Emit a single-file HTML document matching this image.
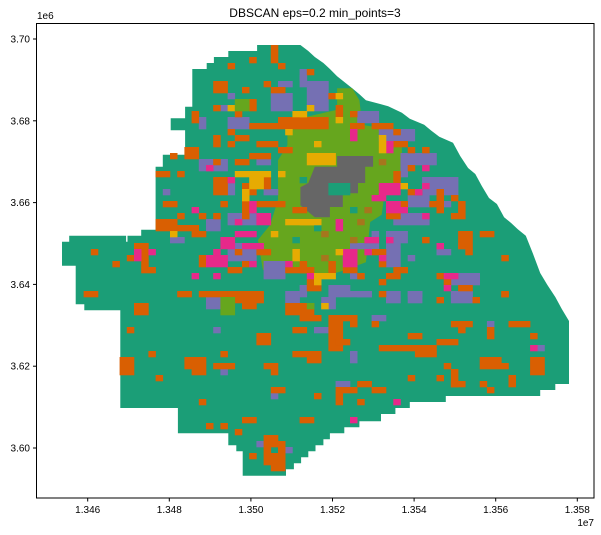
<!DOCTYPE html>
<html><head><meta charset="utf-8"><style>
body{margin:0;background:#fff;}
svg{display:block;font-family:"Liberation Sans","DejaVu Sans",sans-serif;}
</style></head><body>
<svg id="chart" width="601" height="535" xmlns="http://www.w3.org/2000/svg">
<rect width="601" height="535" fill="#fff"/>
<text x="315" y="17" font-size="12" text-anchor="middle" fill="#000">DBSCAN eps=0.2 min_points=3</text>
<g id="plot"></g>
<g id="axes"></g>
</svg>
<script>
// axis scales (data units: easting 1e7, northing 1e6)
const xTicks=[1.346,1.348,1.350,1.352,1.354,1.356,1.358];
const yTicks=[3.60,3.62,3.64,3.66,3.68,3.70];
const xTickLabels=["1.346","1.348","1.350","1.352","1.354","1.356","1.358"];
const yTickLabels=["3.60","3.62","3.64","3.66","3.68","3.70"];
// raster grid definition (cell index -> data coords)
const gridX0=1.34537, gridCellW=0.0001765, gridYTop=3.69853, gridCellH=0.001467;
// region outlines in grid cell units [col,row]
const outerRegion=[[27.1,0],[33.1,0],[34.2,1],[35.1,2],[36.3,3],[37.2,4],[38.2,5.2],[40.3,7.2],[41.3,8.2],[42.2,9.2],[45.3,10.2],[47.2,11.3],[48.3,12.3],[50.3,13.3],[51.3,14.3],[52.4,15.3],[54.3,16.3],[55.3,18.5],[56.4,20.5],[57.4,21.5],[58.3,23.5],[59.3,25.5],[60.4,26.5],[61.4,28.7],[62.4,29.7],[63.3,30.7],[64.4,31.8],[65.4,34.8],[66.4,38],[67.4,40],[68.5,42],[69.4,44],[70.4,46],[70.4,56.5],[68.5,56.5],[68.5,57.5],[66.4,57.5],[66.4,58.5],[53.3,58.5],[53.3,59.5],[48.3,59.5],[48.3,60.5],[46.3,60.5],[46.3,61.5],[44.3,61.5],[44.3,62.7],[41.3,62.7],[41.3,63.7],[39.2,63.7],[39.2,64.7],[37.2,64.7],[37.2,65.7],[36.3,65.7],[36.3,66.7],[35.2,66.7],[35.2,67.7],[34.2,67.7],[34.2,68.7],[33.2,68.7],[33.2,69.7],[32.2,69.7],[32.2,70.7],[31.1,70.7],[31.1,71.8],[25.1,71.8],[25.1,67.7],[24.2,67.7],[24.2,66.7],[23.1,66.7],[23.1,64.7],[16.1,64.7],[16.1,60.5],[8.1,60.5],[8.1,44.2],[3.1,44.2],[3.1,43.2],[1.9,43.2],[1.9,36.8],[0,36.8],[0,32.8],[1,32.8],[1,31.8],[8.9,31.8],[8.9,32.8],[9.1,32.8],[9.1,31.8],[11,31.8],[11,30.8],[13,30.8],[13,20.3],[14,20.3],[14,18.3],[17.1,18.3],[17.1,14.2],[15.1,14.2],[15.1,12.2],[17.1,12.2],[17.1,10.3],[18.1,10.3],[18.1,4],[20.1,4],[20.1,3],[21.1,3],[21.1,2],[23.1,2],[23.1,1],[27.1,1]];
const limeRegion=[[31.3,14.2],[33.1,12.2],[38.2,10.8],[38.2,7.2],[40.3,7.2],[41.3,9.2],[41.7,13.3],[47.2,14.5],[47.2,22],[46.3,23.5],[44.7,25.5],[44.4,28.3],[42.8,29.5],[42.2,36.2],[39.3,37.5],[37.2,38.3],[33.1,38],[27.9,37.5],[27.2,32.5],[28.9,30],[30,25.8],[30,19.2],[31.3,16.7]];
const grayRegion=[[38.2,18.5],[43.2,18.5],[43.2,20.3],[42.1,20.3],[42.1,23],[41.1,23],[41.1,24.7],[39,24.7],[39,27],[37.2,27],[37.2,28.7],[35.1,28.7],[33.1,26.7],[33.1,23.7],[34.2,23],[35.1,20.3],[38.2,20.3]];
// cluster cell blocks [col,row,w,h]
const purpleCells=[[29,8,3,3],[34,6,3,5],[19,12,1,2],[23,12,3,2],[19,19,4,2],[27,19,2,1],[14,24,1,1],[23,23,1,2],[28,24,2,1],[23,28,4,2],[20,29,2,2],[15,32,2,1],[23,33,4,3],[28,36,3,3],[33,5,1,1],[30,6,2,1],[22,10,1,1],[23,8,1,1],[33,4,1,3],[41,11,3,2],[44,14,5,2],[47,18,5,2],[47,20,1,2],[50,22,5,3],[48,25,3,2],[46,28,5,2],[53,26,1,1],[43,31,1,1],[45,31,3,2],[45,33,2,4],[40,33,4,1],[48,35,1,1],[52,34,2,1],[55,33,1,1],[54,38,4,2],[37,40,3,2],[40,38,2,1],[39,35,1,1],[48,41,2,1],[54,41,3,1],[33,40,1,2],[41,41,2,1],[20,42,2,2],[31,41,2,2],[36,42,2,2],[40,41,3,1],[45,41,2,2],[48,41,2,2],[54,41,3,2],[35,47,2,1],[40,51,1,2],[59,46,1,1],[66,50,1,1],[43,45,2,1],[21,47,1,1],[38,56,2,1],[39,57,1,1],[18,53,1,1],[22,54,1,1],[29,58,1,1],[27,66,1,1],[31,67,1,1]];
const orangeCells=[[29,0,1,3],[23,3,1,1],[26,2,1,1],[30,3,1,1],[34,4,1,1],[21,6,2,2],[28,6,1,1],[29,7,2,1],[25,7,1,1],[21,10,1,1],[26,9,1,2],[18,11,1,2],[24,11,1,1],[30,12,4,2],[26,13,4,1],[23,14,1,1],[24,15,2,1],[21,15,1,2],[23,16,1,1],[27,16,3,1],[30,17,2,1],[17,17,2,2],[15,18,1,1],[21,19,1,1],[24,19,2,1],[26,18,3,1],[13,21,2,1],[16,21,1,1],[21,22,2,3],[25,23,1,1],[28,22,1,2],[26,24,1,1],[14,26,2,1],[22,26,1,1],[25,26,1,3],[27,26,4,1],[32,27,2,1],[16,28,1,1],[19,28,1,1],[21,28,1,1],[13,29,3,2],[16,30,3,1],[18,31,2,1],[10,33,2,1],[11,34,1,3],[9,35,1,1],[4,34,1,1],[7,36,1,1],[11,37,2,1],[19,35,1,2],[24,34,1,1],[25,36,1,1],[27,34,2,1],[31,37,3,1],[33,36,1,1],[23,37,2,1],[37,8,1,1],[38,10,1,2],[34,12,3,2],[40,11,1,1],[40,13,2,1],[43,13,3,1],[46,14,1,1],[46,16,2,1],[48,17,1,1],[50,17,1,1],[46,21,1,2],[48,20,1,1],[48,24,2,1],[52,24,1,4],[51,26,1,1],[55,26,1,3],[54,28,1,1],[54,25,1,1],[47,26,1,1],[45,28,2,1],[55,31,2,3],[58,31,2,1],[50,32,1,1],[56,34,1,1],[61,35,1,1],[43,34,2,1],[44,36,1,1],[46,37,2,1],[45,38,2,1],[37,36,1,2],[39,37,2,1],[41,38,1,1],[44,39,1,1],[52,38,2,1],[53,39,1,1],[55,40,2,1],[61,41,1,1],[33,37,2,1],[34,39,2,2],[3,41,2,1],[10,43,2,2],[16,41,2,1],[19,41,4,1],[23,41,5,2],[25,43,2,1],[9,47,1,1],[12,51,1,1],[22,51,1,1],[8,52,2,3],[17,52,3,2],[18,54,2,1],[21,53,3,1],[27,48,2,2],[28,53,2,1],[29,54,1,1],[32,47,2,1],[31,43,4,2],[33,45,3,1],[32,51,4,1],[34,52,2,1],[37,45,2,6],[38,49,2,1],[13,55,1,1],[29,57,2,1],[35,58,1,1],[38,57,3,1],[38,58,1,2],[41,59,1,1],[19,59,1,1],[25,62,2,1],[33,62,2,1],[20,63,1,1],[22,63,1,1],[24,64,1,1],[28,65,2,1],[28,66,3,1],[28,67,1,1],[30,67,1,2],[28,68,3,2],[29,70,2,1],[26,68,1,1],[41,56,2,1],[43,57,2,1],[44,50,2,1],[46,50,6,1],[49,51,3,1],[48,48,2,1],[48,55,1,1],[52,49,3,1],[53,53,1,1],[54,54,1,3],[54,56,2,1],[54,46,3,1],[55,47,1,1],[58,52,3,1],[58,53,4,1],[59,47,1,2],[62,46,3,1],[65,52,2,3],[65,48,1,1],[62,55,1,2],[58,56,1,1],[59,57,1,1],[52,55,1,1],[52,42,1,1],[57,42,1,1],[61,41,1,1],[44,41,1,1],[43,46,1,1],[39,45,2,1],[40,46,1,1]];
const pinkCells=[[40,14,1,2],[45,16,1,2],[44,23,3,2],[43,25,2,1],[45,26,2,2],[50,20,1,1],[50,23,1,1],[49,24,1,1],[47,27,1,1],[50,28,1,1],[38,29,1,2],[42,32,2,1],[45,32,1,1],[39,34,2,3],[42,34,1,1],[52,33,1,1],[53,40,1,1],[53,38,2,1],[44,35,1,1],[34,38,1,1],[20,20,1,1],[23,22,1,1],[26,26,1,2],[18,27,1,1],[27,28,2,2],[24,29,1,1],[24,31,3,1],[22,32,2,2],[25,33,3,1],[10,34,1,2],[12,34,1,1],[20,35,3,2],[21,34,1,1],[26,36,1,1],[31,36,1,1],[18,38,1,1],[21,38,1,1],[65,50,1,1],[46,59,1,1],[40,62,1,1]];
const goldCells=[[23,10,1,1],[32,11,2,1],[34,10,1,1],[31,14,1,1],[35,16,1,1],[34,18,4,2],[24,21,5,1],[30,21,1,1],[26,22,2,2],[25,24,1,2],[31,29,5,1],[15,31,1,1],[29,31,1,1],[32,34,1,2],[35,38,3,1],[38,8,1,1],[33,11,1,1],[38,12,1,1],[44,15,1,3],[47,23,1,1],[33,29,2,1],[38,34,1,1],[35,39,1,1],[36,43,1,1]];
const limeCells=[[24,9,2,2],[22,42,2,3],[34,43,1,1]];
const brownCells=[[44,19,1,1],[42,27,1,1],[41,29,1,1],[36,31,1,1],[40,32,1,1],[36,35,1,1]];
const tealCells=[[37,23,3,2],[36,19,1,1],[33,22,1,1],[40,27,1,1],[35,30,1,1],[32,32,1,1]];

const ns="http://www.w3.org/2000/svg";
function X(v){return 577.3-(1.358-v)/0.002*81.6;}
function Y(v){return 39+(3.70-v)/0.02*81.8;}
function cx(c){return X(gridX0+c*gridCellW);}
function cy(r){return Y(gridYTop-r*gridCellH);}
const plot=document.getElementById('plot');
const axes=document.getElementById('axes');
function poly(pts,fill,name){
  const p=document.createElementNS(ns,'polygon');
  p.setAttribute('points',pts.map(q=>cx(q[0]).toFixed(1)+','+cy(q[1]).toFixed(1)).join(' '));
  p.setAttribute('fill',fill);
  
  
  plot.appendChild(p);
}
function cells(list,fill,name){
  list.forEach(b=>{
    const r=document.createElementNS(ns,'rect');
    const x0=cx(b[0]),x1=cx(b[0]+b[2]),y0=cy(b[1]),y1=cy(b[1]+b[3]);
    r.setAttribute('x',x0.toFixed(1));r.setAttribute('y',y0.toFixed(1));
    r.setAttribute('width',(x1-x0+0.3).toFixed(1));r.setAttribute('height',(y1-y0+0.3).toFixed(1));
    r.setAttribute('fill',fill);
    
    
    plot.appendChild(r);
  });
}
poly(outerRegion,'#1b9e77','cluster-main-region');
poly(limeRegion,'#66a61e','cluster-lime-region');
poly(grayRegion,'#666666','cluster-gray-region');
cells(tealCells,'#1b9e77','cluster-teal-cell');
cells(purpleCells,'#7570b3','cluster-purple-cell');
cells(orangeCells,'#d95f02','cluster-orange-cell');
cells(pinkCells,'#e7298a','cluster-pink-cell');
cells(goldCells,'#e6ab02','cluster-gold-cell');
cells(limeCells,'#66a61e','cluster-lime-cell');
cells(brownCells,'#a6761d','cluster-brown-cell');

// frame
const fr=document.createElementNS(ns,'rect');
fr.setAttribute('x',36.5);fr.setAttribute('y',23.5);fr.setAttribute('width',557.5);fr.setAttribute('height',474.5);
fr.setAttribute('fill','none');fr.setAttribute('stroke','#000');fr.setAttribute('stroke-width','1');


axes.appendChild(fr);
xTicks.forEach((v,i)=>{
  const x=X(v);
  const l=document.createElementNS(ns,'line');
  l.setAttribute('x1',x);l.setAttribute('x2',x);l.setAttribute('y1',498);l.setAttribute('y2',501.5);l.setAttribute('stroke','#000');
  
  
  axes.appendChild(l);
  const t=document.createElementNS(ns,'text');
  t.setAttribute('x',x);t.setAttribute('y',513);t.setAttribute('font-size','10');t.setAttribute('text-anchor','middle');
  t.textContent=xTickLabels[i];
  
  
  axes.appendChild(t);
});
yTicks.forEach((v,i)=>{
  const y=Y(v);
  const l=document.createElementNS(ns,'line');
  l.setAttribute('x1',33);l.setAttribute('x2',36.5);l.setAttribute('y1',y);l.setAttribute('y2',y);l.setAttribute('stroke','#000');
  
  
  axes.appendChild(l);
  const t=document.createElementNS(ns,'text');
  t.setAttribute('x',30);t.setAttribute('y',y+3.5);t.setAttribute('font-size','10');t.setAttribute('text-anchor','end');
  t.textContent=yTickLabels[i];
  
  
  axes.appendChild(t);
});
const o1=document.createElementNS(ns,'text');
o1.setAttribute('x',37);o1.setAttribute('y',19);o1.setAttribute('font-size','10');o1.textContent='1e6';


axes.appendChild(o1);
const o2=document.createElementNS(ns,'text');
o2.setAttribute('x',594);o2.setAttribute('y',526);o2.setAttribute('font-size','10');o2.setAttribute('text-anchor','end');o2.textContent='1e7';


axes.appendChild(o2);
</script>
</body></html>
